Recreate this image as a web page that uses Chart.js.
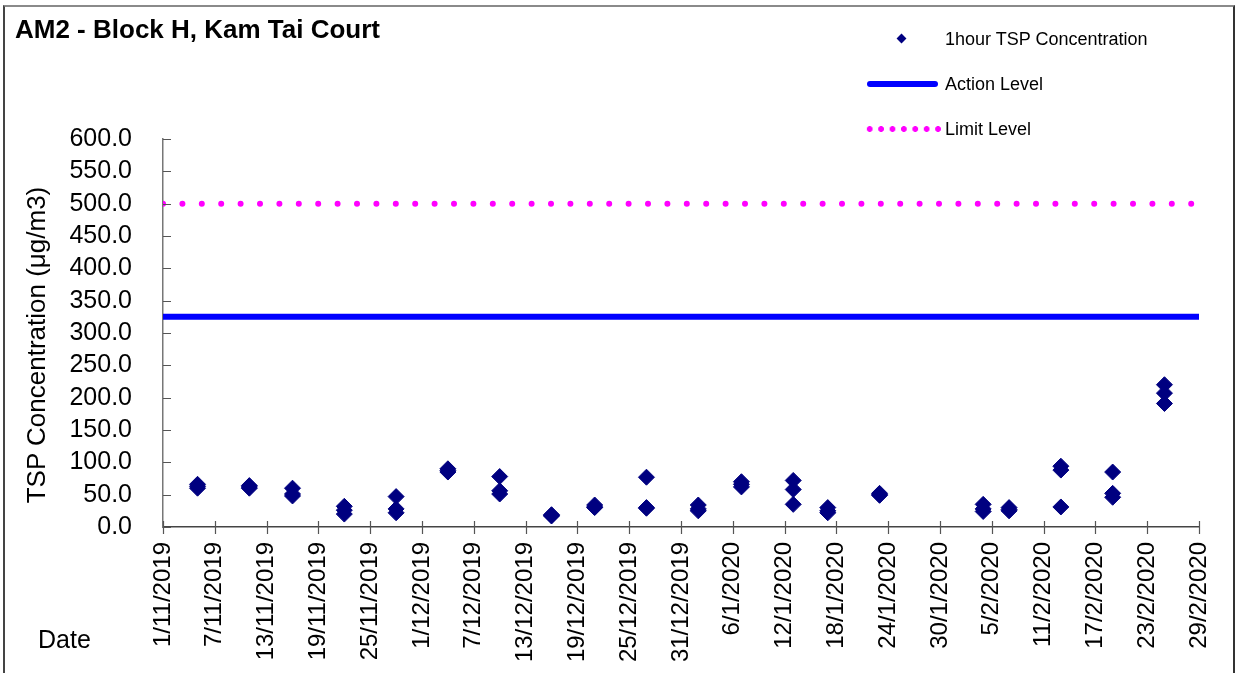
<!DOCTYPE html>
<html>
<head>
<meta charset="utf-8">
<script src="https://cdn.jsdelivr.net/npm/chart.js@4"></script>
<style>
  html, body { margin: 0; padding: 0; background: #fff; }
  #wrap { position: relative; width: 1237px; height: 673px; overflow: hidden; font-family: 'Liberation Sans', Arial, sans-serif; }
  #frame { position: absolute; left: 3px; top: 5px; width: 1232px; height: 700px; border-top: 2px solid #8a8a8a; border-left: 2px solid #444; border-right: 2px solid #333; box-sizing: border-box; pointer-events: none; }
  canvas { position: absolute; left: 0; top: 0; }
  .txt { position: absolute; color: #000; white-space: nowrap; line-height: 1; }
  #title { left: 15px; top: 16px; font-size: 26px; font-weight: bold; }
  #ytitle { left: 36px; top: 345px; font-size: 26px; transform: translate(-50%, -50%) rotate(-90deg); }
  #date { left: 38px; top: 627px; font-size: 25px; }
  .leg { font-size: 18px; left: 945px; }
  #diam { position: absolute; left: 898px; top: 35px; width: 7px; height: 7px; background: #000080; transform: rotate(45deg); }
  #aline { position: absolute; left: 867px; top: 81px; width: 71px; height: 6px; background: #0000ff; border-radius: 3px; }
  #lline { position: absolute; left: 864px; top: 126px; width: 80px; height: 6px;
           background: radial-gradient(circle, #ff00ff 2.6px, rgba(255,0,255,0) 3.2px) repeat-x; background-size: 11.4px 6px; }
</style>
</head>
<body>
<div id="wrap">
  <canvas id="c" width="1237" height="673"></canvas>
  <div id="frame"></div>
  <div class="txt" id="title">AM2 - Block H, Kam Tai Court</div>
  <div class="txt" id="ytitle">TSP Concentration (μg/m3)</div>
  <div id="diam"></div>
  <div class="txt leg" style="top:30px">1hour TSP Concentration</div>
  <div id="aline"></div>
  <div class="txt leg" style="top:75px">Action Level</div>
  <div id="lline"></div>
  <div class="txt leg" style="top:120px">Limit Level</div>
  <div class="txt" id="date">Date</div>
</div>
<script>
// ---- data ----
const sampleDates = ["5/11/2019","11/11/2019","16/11/2019","22/11/2019","28/11/2019","4/12/2019","10/12/2019",
  "16/12/2019","21/12/2019","27/12/2019","2/1/2020","7/1/2020","13/1/2020","17/1/2020","23/1/2020",
  "4/2/2020","7/2/2020","13/2/2020","19/2/2020","25/2/2020"];
const reading1 = [66, 64, 60, 32, 47, 90, 78, 19, 34, 77, 34, 70, 72, 30, 52, 35, 30, 94, 85, 220];
const reading2 = [63, 62, 51, 26, 28, 87, 56, 18, 31, 30, 28, 66, 58, 25, 50, 28, 27, 88, 52, 207];
const reading3 = [60, 60, 48, 20, 22, 85, 51, 17, 30, 29, 25, 62, 35, 22, 49, 24, 25, 31, 46, 191];
const actionLevel = 325;
const limitLevel = 500;
const axisStart = "1/11/2019";
const axisEnd = "29/2/2020";
const yTicksMin = 0, yTicksMax = 600, yStep = 50;
const xStepDays = 6;

// ---- helpers ----
function parseD(s) { const [d, m, y] = s.split('/').map(Number); return Date.UTC(y, m - 1, d); }
const DAY = 86400000;
const t0 = parseD(axisStart);
const dayOf = s => Math.round((parseD(s) - t0) / DAY);
const xMax = dayOf(axisEnd);
function fmt(day) { const dt = new Date(t0 + day * DAY); return dt.getUTCDate() + '/' + (dt.getUTCMonth() + 1) + '/' + dt.getUTCFullYear(); }

const points = [];
sampleDates.forEach((s, i) => {
  const x = dayOf(s);
  [reading1[i], reading2[i], reading3[i]].forEach(v => points.push({ x: x, y: v }));
});

const FONT = "'Liberation Sans', Arial, sans-serif";

const tickMarks = {
  id: 'tickMarks',
  afterDraw(chart) {
    const { ctx, scales: { x, y } } = chart;
    ctx.save();
    ctx.strokeStyle = '#555';
    ctx.lineWidth = 1.2;
    ctx.beginPath();
    y.ticks.forEach(t => { const py = Math.round(y.getPixelForValue(t.value)) + 0.5; ctx.moveTo(x.left, py); ctx.lineTo(x.left + 8, py); });
    x.ticks.forEach(t => { const px = Math.round(x.getPixelForValue(t.value)) + 0.5; ctx.moveTo(px, y.bottom - 6); ctx.lineTo(px, y.bottom + 7); });
    ctx.stroke();
    ctx.restore();
  }
};

new Chart(document.getElementById('c'), {
  type: 'scatter',
  data: {
    datasets: [
      { label: 'Limit Level', type: 'line', data: [{ x: 0, y: limitLevel }, { x: xMax, y: limitLevel }],
        borderColor: '#ff00ff', borderWidth: 6, borderDash: [0, 19.4], borderCapStyle: 'round', pointRadius: 0, fill: false, order: 3 },
      { label: 'Action Level', type: 'line', data: [{ x: 0, y: actionLevel }, { x: xMax, y: actionLevel }],
        borderColor: '#0000ff', borderWidth: 6, pointRadius: 0, fill: false, order: 2 },
      { label: '1hour TSP Concentration', data: points, pointStyle: 'rectRot', pointRadius: 8,
        backgroundColor: '#000080', borderColor: '#000080', borderWidth: 1, order: 1 }
    ]
  },
  options: {
    responsive: false,
    animation: false,
    devicePixelRatio: 1,
    layout: { padding: { top: 139, right: 38, left: 0, bottom: 0 } },
    plugins: { legend: { display: false }, title: { display: false }, tooltip: { enabled: false } },
    scales: {
      x: {
        type: 'linear', min: 0, max: xMax,
        grid: { display: false, drawTicks: false },
        border: { display: true, color: '#444', width: 1.5 },
        ticks: { stepSize: xStepDays, autoSkip: false, maxRotation: 90, minRotation: 90, padding: 15,
                 color: '#000', font: { family: FONT, size: 24 }, callback: v => fmt(v) },
        afterFit: s => { s.height = 146; s.paddingLeft = 0; s.paddingRight = 0; }
      },
      y: {
        min: yTicksMin, max: yTicksMax,
        grid: { display: false, drawTicks: false },
        border: { display: true, color: '#777', width: 1.5 },
        ticks: { stepSize: yStep, autoSkip: false, padding: 31, color: '#000', font: { family: FONT, size: 25 },
                 callback: v => v.toFixed(1) },
        afterFit: s => { s.width = 163; s.paddingTop = 0; s.paddingBottom = 0; }
      }
    }
  },
  plugins: [tickMarks]
});
</script>
</body>
</html>
